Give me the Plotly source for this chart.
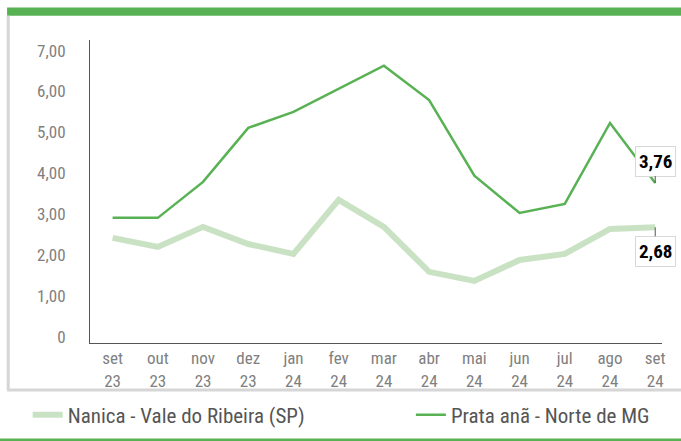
import plotly.graph_objects as go

months = ["set<br>23", "out<br>23", "nov<br>23", "dez<br>23", "jan<br>24", "fev<br>24", "mar<br>24",
          "abr<br>24", "mai<br>24", "jun<br>24", "jul<br>24", "ago<br>24", "set<br>24"]
nanica = [2.42, 2.20, 2.69, 2.27, 2.03, 3.35, 2.69, 1.59, 1.37, 1.88, 2.03, 2.64, 2.68]
prata = [2.91, 2.91, 3.79, 5.11, 5.50, 6.06, 6.63, 5.79, 3.94, 3.03, 3.25, 5.23, 3.76]
y_ticks = [0, 1, 2, 3, 4, 5, 6, 7]
y_labels = ["0", "1,00", "2,00", "3,00", "4,00", "5,00", "6,00", "7,00"]

FONT = "Roboto Condensed, DejaVu Sans Condensed, Roboto, sans-serif"
GREEN = "rgb(88,178,84)"
LIGHT = "rgb(202,226,196)"

x = list(range(len(months)))
fig = go.Figure()
fig.add_trace(go.Scatter(x=x, y=nanica, name="Nanica - Vale do Ribeira (SP)", mode="lines",
                         line=dict(color=LIGHT, width=6), legend="legend"))
fig.add_trace(go.Scatter(x=x, y=prata, name="Prata anã - Norte de MG", mode="lines",
                         line=dict(color=GREEN, width=2.5), legend="legend2"))

for val, off in [(prata[-1], -22), (nanica[-1], 24)]:
    fig.add_annotation(x=x[-1], y=val, text="<b>" + f"{val:.2f}".replace(".", ",") + "</b>",
                       showarrow=True, arrowhead=0, arrowwidth=1, arrowcolor="#555",
                       ax=0, ay=off, bgcolor="white", bordercolor="#d8d8d8", borderwidth=1,
                       borderpad=3, font=dict(family=FONT, size=19, color="black"))

# frame: green top bar, grey left/bottom, green bottom bar
fig.add_shape(type="rect", xref="paper", yref="paper", x0=-0.145, x1=1.04, y0=1.08, y1=1.107,
              fillcolor=GREEN, line_width=0, layer="below")
fig.add_shape(type="line", xref="paper", yref="paper", x0=-0.143, x1=-0.143, y0=-0.155, y1=1.08,
              line=dict(color="#d6d6d6", width=3))
fig.add_shape(type="line", xref="paper", yref="paper", x0=-0.145, x1=1.04, y0=-0.155, y1=-0.155,
              line=dict(color="#d6d6d6", width=3))
fig.add_shape(type="rect", xref="paper", yref="paper", x0=-0.16, x1=1.04, y0=-0.315, y1=-0.34,
              fillcolor=GREEN, line_width=0)

fig.update_xaxes(range=[-0.5, 12.15], tickvals=x, ticktext=months, showgrid=False,
                 showline=True, linecolor="#555", linewidth=1, ticks="", zeroline=False,
                 tickfont=dict(family=FONT, size=17, color="#808080"))
fig.update_yaxes(range=[-0.15, 7.26], tickvals=y_ticks, ticktext=y_labels, showgrid=False,
                 showline=True, linecolor="#555", linewidth=1, ticks="", zeroline=False,
                 ticklabelstandoff=20,
                 tickfont=dict(family=FONT, size=17, color="#808080"))

leg_font = dict(family=FONT, size=21, color="#555")
fig.update_layout(
    width=681, height=441,
    margin=dict(l=90, r=19, t=40, b=98, autoexpand=False),
    plot_bgcolor="white", paper_bgcolor="white",
    showlegend=True,
    legend=dict(orientation="h", x=-0.109, xanchor="left", y=-0.238, yanchor="middle",
                bgcolor="rgba(0,0,0,0)", font=leg_font),
    legend2=dict(orientation="h", x=0.561, xanchor="left", y=-0.238, yanchor="middle",
                 bgcolor="rgba(0,0,0,0)", font=leg_font),
)

fig.write_html("out.html", config={"displayModeBar": False},
               post_script="document.body.style.margin='0';")
